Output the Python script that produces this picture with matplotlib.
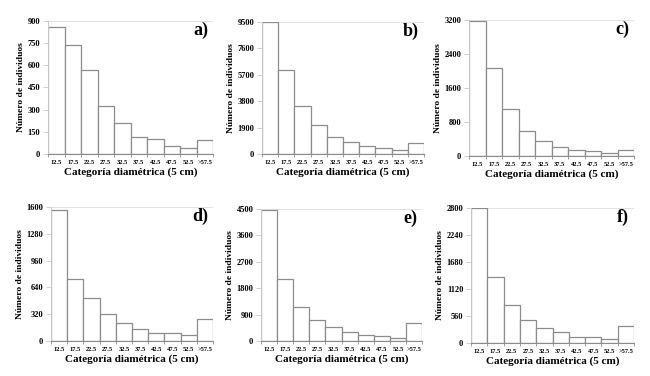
import matplotlib
matplotlib.use("Agg")
import matplotlib.pyplot as plt
import numpy as np

plt.rcParams['font.family'] = ['Liberation Serif', 'DejaVu Serif']
plt.rcParams['font.weight'] = 'bold'

categories = ['12.5', '17.5', '22.5', '27.5', '32.5', '37.5', '42.5', '47.5', '52.5', '>57.5']

counts_a = [860, 738, 571, 328, 209, 115, 103, 54, 38, 92]
counts_b = [9500, 6080, 3420, 2060, 1200, 840, 575, 405, 265, 765]
counts_c = [3180, 2080, 1095, 595, 345, 210, 133, 110, 70, 141]
counts_d = [1560, 744, 517, 322, 219, 147, 96, 90, 72, 263]
counts_e = [4480, 2130, 1175, 730, 467, 320, 216, 182, 114, 627]
counts_f = [2790, 1366, 793, 476, 310, 228, 124, 125, 83, 352]

panel_labels = ['a)', 'b)', 'c)', 'd)', 'e)', 'f)']
y_max = [900, 9500, 3200, 1600, 4500, 2800]
y_step = [150, 1900, 800, 320, 900, 560]

all_counts = [counts_a, counts_b, counts_c, counts_d, counts_e, counts_f]

# axes boxes in pixels (left, top, right, bottom) on a 650x376 canvas
boxes = [(48, 21, 213, 154), (262, 22, 424, 154), (469, 20, 634, 156),
         (51, 207, 213, 341), (261, 209, 422, 341), (471, 208, 634, 343)]

W, H = 650, 376
fig = plt.figure(figsize=(6.5, 3.76), dpi=100)
fig.patch.set_facecolor('white')

edge = '#8c8c8c'
light = '#c8c8c8'
x = np.arange(len(categories))

for counts, lab, top, step, (l, t, r, b) in zip(all_counts, panel_labels, y_max, y_step, boxes):
    ax = fig.add_axes([l / W, 1 - b / H, (r - l) / W, (b - t) / H])
    ax.bar(x, counts, width=1.0, color='white', edgecolor=edge, linewidth=0.9)
    ax.set_xlim(-0.5, len(categories) - 0.5)
    ax.set_ylim(0, top)
    yt = np.arange(0, top + 1, step)
    ax.set_yticks(yt)
    ax.set_yticklabels([str(v) for v in yt], fontsize=6, fontweight='bold')
    ax.axhline(top, color='#dddddd', linewidth=0.6, zorder=0)
    ax.set_xticks(x)
    ax.set_xticklabels(categories, fontsize=4.6, fontweight='bold')
    ax.set_xticks(np.arange(len(categories) + 1) - 0.5, minor=True)
    ax.tick_params(axis='x', which='major', length=0, pad=4)
    ax.tick_params(axis='x', which='minor', length=2.5, color=edge, width=0.6)
    ax.tick_params(axis='y', length=3.5, color=light, width=0.6, pad=2)
    for s in ['top', 'right']:
        ax.spines[s].set_visible(False)
    ax.spines['left'].set_color(light)
    ax.spines['left'].set_linewidth(0.7)
    ax.spines['bottom'].set_color(edge)
    ax.spines['bottom'].set_linewidth(0.8)
    ax.set_xlabel('Categoría diamétrica (5 cm)', fontsize=8, fontweight='bold', labelpad=2)
    ax.set_ylabel('Número de individuos', fontsize=6.8, fontweight='bold', labelpad=2)
    ax.text(0.97, 0.995, lab, transform=ax.transAxes, ha='right', va='top',
            fontsize=13, fontweight='bold')

fig.savefig('out.png', dpi=100, facecolor='white')
